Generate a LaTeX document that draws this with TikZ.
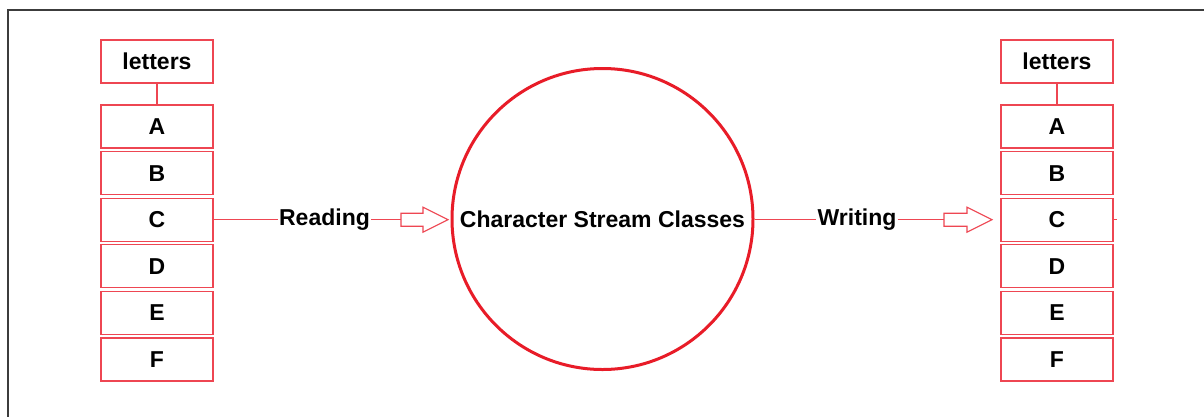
\documentclass[tikz,border=0pt]{standalone}
\usepackage{fontspec}
\setmainfont{Liberation Sans}
\begin{document}
\begin{tikzpicture}[x=1bp,y=-1bp,
  cellbox/.style={draw=boxred,line width=1.3bp,fill=white,minimum width=112bp,minimum height=43bp,inner sep=0pt,font=\fontsize{23bp}{26bp}\selectfont\bfseries},
  wire/.style={draw=boxred,line width=1.1bp},
  label/.style={inner sep=1pt,anchor=base,font=\fontsize{23bp}{26bp}\selectfont\bfseries},
  hollowarrow/.style={draw=boxred,line width=1.1bp,fill=white,line join=miter}
]
\definecolor{boxred}{RGB}{238,70,82}
\definecolor{ringred}{RGB}{232,28,40}
\definecolor{framegray}{RGB}{60,60,60}
\useasboundingbox (0,0) rectangle (1204,416);
\fill[white] (0,0) rectangle (1204,416);
% outer frame (top and left edges)
\draw[framegray,line width=2bp] (8,417) -- (8,10) -- (1205,10);

% left stack
\node[cellbox] (Lt) at (157,61.5) {letters};
\foreach \n/\t [count=\i from 0] in {LA/A,LB/B,LC/C,LD/D,LE/E,LF/F}
  \node[cellbox] (\n) at (157,126.5+46.6*\i) {\t};
\draw[wire] (Lt.south) -- (LA.north);

% right stack
\node[cellbox] (Rt) at (1057,61.5) {letters};
\foreach \n/\t [count=\i from 0] in {RA/A,RB/B,RC/C,RD/D,RE/E,RF/F}
  \node[cellbox] (\n) at (1057,126.5+46.6*\i) {\t};
\draw[wire] (Rt.south) -- (RA.north);
\coordinate (stub) at ([xshift=3bp]RC.east);
\draw[wire] (RC.east) -- (stub);

% central circle
\node[circle,draw=ringred,line width=3bp,minimum size=301bp,inner sep=0pt,
      font=\fontsize{23bp}{26bp}\selectfont\bfseries] (cs) at (602.5,219) {Character Stream Classes};

% reading branch
\node[label] (rd) at (324.5,225.5) {Reading};
\coordinate (ra) at (401,219.7);
\draw[wire] (LC.east) -- (LC.east -| rd.west);
\draw[wire] (ra -| rd.east) -- (ra);
\draw[hollowarrow] (ra) ++(0,-6.5) -- ++(22,0) -- ++(0,-6) -- (448,219.7) -- (423,232.2) -- ++(0,-6) -- ++(-22,0) -- cycle;

% writing branch
\node[label] (wr) at (857,225.5) {Writing};
\coordinate (wa) at (944,219.7);
\draw[wire] (cs.east |- wa) -- (wa -| wr.west);
\draw[wire] (wa -| wr.east) -- (wa);
\draw[hollowarrow] (wa) ++(0,-6.5) -- ++(23,0) -- ++(0,-6) -- (992,219.7) -- (967,232.2) -- ++(0,-6) -- ++(-23,0) -- cycle;
\end{tikzpicture}
\end{document}
